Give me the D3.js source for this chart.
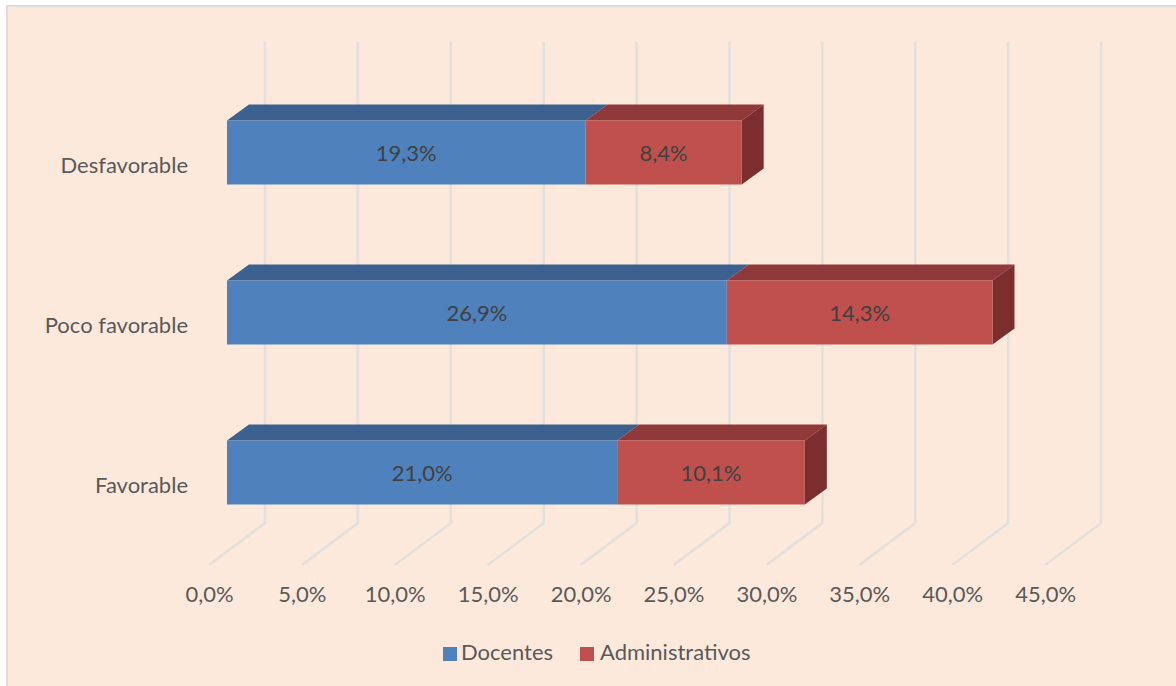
<!DOCTYPE html>
<html><head><meta charset="utf-8">
<script src="https://cdn.jsdelivr.net/npm/d3@7"></script>
<style>html,body{margin:0;padding:0;background:#fff}svg{display:block}text{font-family:Lato,"Open Sans",sans-serif}</style>
</head><body><svg id="c" width="1176" height="686"></svg>
<script>
const categories = ["Desfavorable","Poco favorable","Favorable"];
const docentes = [19.3,26.9,21.0];
const administrativos = [8.4,14.3,10.1];
const tickValues = [0,5,10,15,20,25,30,35,40,45];
const seriesNames = ["Docentes","Administrativos"];
const fronts = ["#4f81bd","#c0504d"], tops = ["#3c618e","#90393a"], side = "#7b2e2d";
const fmt = v => v.toFixed(1).replace(".",",")+"%";

const svg = d3.select("#c");
svg.append("rect").attr("x",6).attr("y",5).attr("width",1170).attr("height",681).attr("fill","#dedbd8");
svg.append("rect").attr("x",8).attr("y",7).attr("width",1168).attr("height",679).attr("fill","#fde9dc");

const x = d3.scaleLinear().domain([0,45]).range([227,227+18.58*45]);
const y = d3.scaleBand().domain(categories).range([72.5,552.5]).paddingInner(0.6).paddingOuter(0.3);
const dx = 22, dy = 16;

// walls + floor lines
const wallTop = 42, wallBottom = 523, wallDx = 38, floorDx = -18, floorBottom = 565;
svg.append("g").selectAll("path").data(tickValues).join("path")
  .attr("d", t => `M${x(t)+wallDx},${wallTop}L${x(t)+wallDx},${wallBottom}L${x(t)+floorDx},${floorBottom}`)
  .attr("fill","none").attr("stroke","#e2e0dc").attr("stroke-width",2.6);

// value axis labels
const axis = d3.axisBottom(d3.scaleLinear().domain([0,45]).range([x(0)+floorDx,x(45)+floorDx]))
  .tickValues(tickValues).tickFormat(fmt).tickSize(0).tickPadding(0);
const ga = svg.append("g").attr("transform","translate(0,586)").call(axis);
ga.select(".domain").remove();
ga.selectAll("text").attr("font-size",22).attr("fill","#595959").style("font-family",'Lato,"Open Sans",sans-serif');

// category labels
const ay = d3.axisLeft(y).tickSize(0).tickPadding(0);
const gy = svg.append("g").attr("transform","translate(188,13)").call(ay);
gy.select(".domain").remove();
gy.selectAll("text").attr("font-size",22).attr("fill","#595959").attr("dy","0.32em").attr("y",0).style("font-family",'Lato,"Open Sans",sans-serif');

// bars
categories.forEach((c,i)=>{
  const a = docentes[i], b = administrativos[i], Y = y(c), H = y.bandwidth();
  const segs = [[0,a,0],[a,a+b,1]];
  const g = svg.append("g");
  g.selectAll("path.top").data(segs).join("path").attr("class","top")
    .attr("d",s=>`M${x(s[0])},${Y}L${x(s[0])+dx},${Y-dy}L${x(s[1])+dx},${Y-dy}L${x(s[1])},${Y}Z`)
    .attr("fill",s=>tops[s[2]]);
  g.append("path")
    .attr("d",`M${x(a+b)},${Y}L${x(a+b)+dx},${Y-dy}L${x(a+b)+dx},${Y-dy+H}L${x(a+b)},${Y+H}Z`)
    .attr("fill",side);
  g.selectAll("rect").data(segs).join("rect")
    .attr("x",s=>x(s[0])).attr("y",Y).attr("width",s=>x(s[1])-x(s[0])).attr("height",H)
    .attr("fill",s=>fronts[s[2]]);
  g.selectAll("text").data(segs).join("text")
    .attr("x",s=>(x(s[0])+x(s[1]))/2).attr("y",Y+H/2+8).attr("text-anchor","middle")
    .attr("font-size",22).attr("fill","#404040").text(s=>fmt(s[1]-s[0]));
});

// legend
const legendX = [443,580], legendTextX = [461,600];
const lg = svg.append("g");
seriesNames.forEach((n,i)=>{
  lg.append("rect").attr("x",legendX[i]).attr("y",647).attr("width",14).attr("height",14).attr("fill",fronts[i]);
  lg.append("text").attr("x",legendTextX[i]).attr("y",660).attr("font-size",22).attr("fill","#595959").text(n);
});
</script></body></html>
